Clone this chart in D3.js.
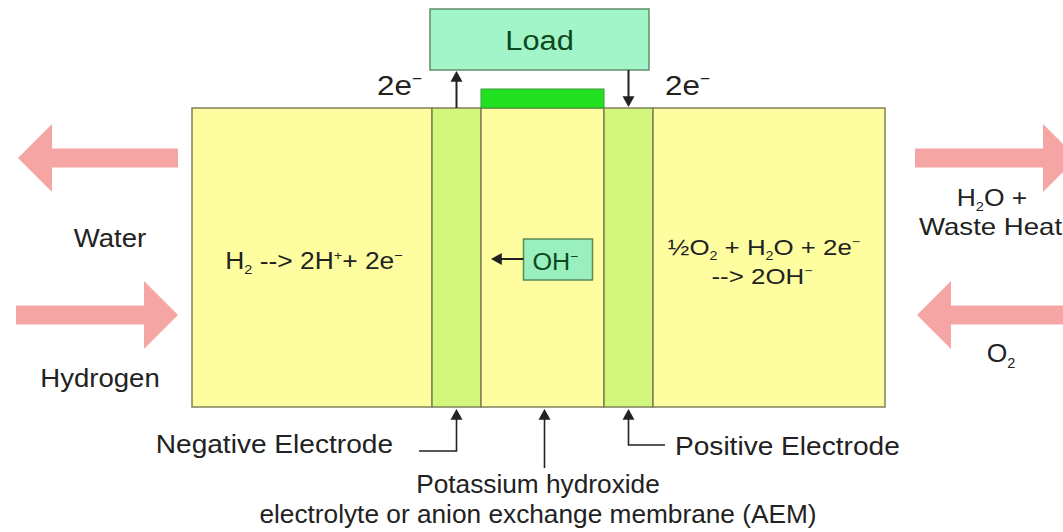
<!DOCTYPE html>
<html>
<head>
<meta charset="utf-8">
<script src="https://cdn.jsdelivr.net/npm/d3@7"></script>
<style>
  body { margin: 0; background: #fff; }
  svg { display: block; font-family: "Liberation Sans", Arial, sans-serif; }
</style>
</head>
<body>
<svg id="cell"></svg>
<script>
// cell layers, left to right, widths in drawing units
var layerNames = ["anode", "negative", "electrolyte", "positive", "cathode"];
var layerWidths = [240, 49, 123, 49, 232];
var layerKinds = ["chamber", "electrode", "chamber", "electrode", "chamber"];

// text pieces: [text, "n" | "sub" | "sup"]
var anodeEq = [["H", "n"], ["2", "sub"], [" --> 2H", "n"], ["+", "sup"], ["+ 2e", "n"], ["\u2212", "sup"]];
var cathodeEq1 = [["\u00bdO", "n"], ["2", "sub"], [" + H", "n"], ["2", "sub"], ["O + 2e", "n"], ["\u2212", "sup"]];
var cathodeEq2 = [["--> 2OH", "n"], ["\u2212", "sup"]];
var ionLabel = [["OH", "n"], ["\u2212", "sup"]];
var electronLabel = [["2e", "n"], ["\u2212", "sup"]];

var leftFlows = [[["Water", "n"]], [["Hydrogen", "n"]]];
var rightFlow1 = [["H", "n"], ["2", "sub"], ["O +", "n"]];
var rightFlow2 = [["Waste Heat", "n"]];
var rightFlow3 = [["O", "n"], ["2", "sub"]];
var bottomLabels = [[["Negative Electrode", "n"]], [["Positive Electrode", "n"]]];
var electrolyteLines = ["Potassium hydroxide", "electrolyte or anion exchange membrane (AEM)"];

var screen = {width: 1063, height: 532}
var svg = d3.select("#cell")
  .attr("width", screen.width)
  .attr("height", screen.height)

var total = d3.sum(layerWidths)
var xScale = d3.scaleLinear().domain([0, total]).range([192, 885])
var boxTop = 108, boxBottom = 407

var starts = []
var acc = 0
layerWidths.forEach(function(w){ starts.push(acc); acc += w })
var layers = layerNames.map(function(n, i){
  return {name: n, kind: layerKinds[i], x0: xScale(starts[i]), x1: xScale(starts[i] + layerWidths[i])}
})
var L = {}
layers.forEach(function(d){ L[d.name] = d })
var mid = function(d){ return (d.x0 + d.x1) / 2 }

var ink = "#222"

// rich text with sub/superscripts, stretched a bit sideways like the source
var rich = function(x, y, parts, size, anchor, color, sx){
  var t = svg.append("g")
    .attr("transform", "translate(" + x + "," + y + ") scale(" + (sx || 1.06) + ",1)")
    .append("text")
    .attr("font-size", size)
    .attr("text-anchor", anchor || "start")
    .attr("fill", color || ink)
  var shift = 0
  parts.forEach(function(p){
    var target = p[1] == "sub" ? size * 0.22 : p[1] == "sup" ? -size * 0.38 : 0
    t.append("tspan")
      .attr("dy", target - shift)
      .attr("font-size", p[1] == "n" ? size : size * 0.55)
      .text(p[0])
    shift = target
  })
  return t
}

var arrowHead = function(x, y, dir, s){
  s = s || 6
  var pts
  if (dir == "up") pts = [[x, y], [x - s, y + s * 1.8], [x + s, y + s * 1.8]]
  if (dir == "down") pts = [[x, y], [x - s, y - s * 1.8], [x + s, y - s * 1.8]]
  if (dir == "left") pts = [[x, y], [x + s * 1.8, y - s], [x + s * 1.8, y + s]]
  svg.append("path").attr("d", d3.line()(pts) + "Z").attr("fill", ink)
}

// big flow arrows
var flowArrow = function(tail, tip, y){
  var dir = tip > tail ? 1 : -1
  var headLen = 34, half = 34, shaft = 9.5
  var base = tip - dir * headLen
  var pts = [[tail, y - shaft], [base, y - shaft], [base, y - half], [tip, y],
             [base, y + half], [base, y + shaft], [tail, y + shaft]]
  svg.append("path").attr("d", d3.line()(pts) + "Z").attr("fill", "#f6a5a5")
}
flowArrow(178, 18, 158)
flowArrow(16, 178, 315)
flowArrow(915, 1077, 158)
flowArrow(1080, 917, 315)

// cell body
svg.selectAll("rect.layer")
  .data(layers)
  .enter()
  .append("rect")
  .attr("class", "layer")
  .attr("x", function(d){ return d.x0 })
  .attr("y", boxTop)
  .attr("width", function(d){ return d.x1 - d.x0 })
  .attr("height", boxBottom - boxTop)
  .attr("fill", function(d){ return d.kind == "electrode" ? "#d3f67c" : "#fefea0" })
  .attr("stroke", "#80805a")
  .attr("stroke-width", 1.5)

// green contact strip on top of electrolyte
svg.append("rect")
  .attr("x", L.electrolyte.x0).attr("y", 89)
  .attr("width", L.electrolyte.x1 - L.electrolyte.x0).attr("height", boxTop - 89)
  .attr("fill", "#20e020").attr("stroke", "#3a9a3a").attr("stroke-width", 1)

// load box
var loadX0 = L.negative.x0 - 2, loadX1 = L.positive.x1 - 4
svg.append("rect")
  .attr("x", loadX0).attr("y", 9)
  .attr("width", loadX1 - loadX0).attr("height", 61)
  .attr("fill", "#a2f5c8").attr("stroke", "#5f8f6a").attr("stroke-width", 1.5)
rich((loadX0 + loadX1) / 2, 50, [["Load", "n"]], 28, "middle", "#0c4a1c", 1.1)

// electron wires
var nx = mid(L.negative), px = mid(L.positive)
svg.append("line").attr("x1", nx).attr("x2", nx).attr("y1", boxTop).attr("y2", 80)
  .attr("stroke", ink).attr("stroke-width", 2)
arrowHead(nx, 71, "up")
svg.append("line").attr("x1", px).attr("x2", px).attr("y1", 70).attr("y2", 98)
  .attr("stroke", ink).attr("stroke-width", 2)
arrowHead(px, 107, "down")
rich(377, 95, electronLabel, 28, "start", ink, 1.12)
rich(665, 95, electronLabel, 28, "start", ink, 1.12)

// hydroxide ion
var ex = mid(L.electrolyte)
svg.append("rect").attr("x", ex - 19).attr("y", 239).attr("width", 69).attr("height", 41)
  .attr("fill", "#9aefbf").attr("stroke", "#5a8a5a").attr("stroke-width", 1.5)
rich(ex - 10, 270, ionLabel, 24, "start", "#0b4a1c", 1.05)
svg.append("line").attr("x1", ex - 19).attr("x2", 500).attr("y1", 259).attr("y2", 259)
  .attr("stroke", ink).attr("stroke-width", 2)
arrowHead(491, 259, "left")

// reactions
rich(mid(L.anode) + 2, 269, anodeEq, 24, "middle", ink, 1.1)
rich(mid(L.cathode) - 5, 255, cathodeEq1, 22.5, "middle", ink, 1.15)
rich(mid(L.cathode) - 7, 284, cathodeEq2, 22.5, "middle", ink, 1.15)

// side labels
rich(110, 247, leftFlows[0], 26, "middle")
rich(100, 387, leftFlows[1], 26, "middle")
rich(992, 206, rightFlow1, 23, "middle", ink, 1.15)
rich(919, 235, rightFlow2, 23, "start", ink, 1.2)
rich(1001, 362, rightFlow3, 25, "middle")

// bottom pointers
var line = function(pts){
  svg.append("path").attr("d", d3.line()(pts)).attr("fill", "none")
    .attr("stroke", ink).attr("stroke-width", 1.6)
}
line([[419, 451], [nx, 451], [nx, 418]])
arrowHead(nx, 409, "up")
line([[ex + 2, 468], [ex + 2, 418]])
arrowHead(ex + 2, 409, "up")
line([[px, 418], [px, 445], [665, 445]])
arrowHead(px, 409, "up")

rich(393, 453, bottomLabels[0], 26.5, "end", ink, 1.06)
rich(675, 455, bottomLabels[1], 26.5, "start", ink, 1.06)
electrolyteLines.forEach(function(s, i){
  rich(538, 493 + i * 30, [[s, "n"]], 25, "middle", ink, 1.05)
})
</script>
</body>
</html>
